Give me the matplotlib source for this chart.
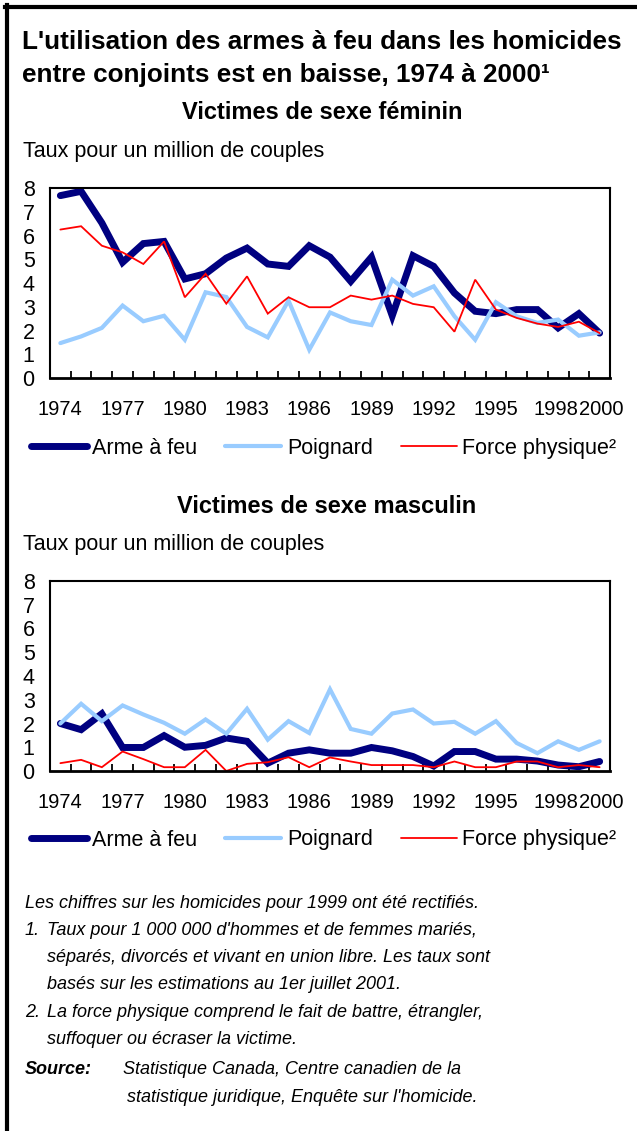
import matplotlib
matplotlib.use('Agg')
import matplotlib.pyplot as plt
import matplotlib.transforms as mtransforms
from matplotlib.lines import Line2D
import numpy as np

# data (taux pour un million de couples)
years = list(range(1974, 2001))
label_years = [1974, 1977, 1980, 1983, 1986, 1989, 1992, 1995, 1998, 2000]

fem_arme = [7.68, 7.86, 6.53, 4.87, 5.66, 5.75, 4.17, 4.39, 5.05, 5.47, 4.80, 4.70, 5.57,
            5.09, 4.07, 5.09, 2.62, 5.15, 4.70, 3.58, 2.81, 2.71, 2.88, 2.88, 2.11, 2.71, 1.89]
fem_poignard = [1.47, 1.75, 2.11, 3.05, 2.39, 2.62, 1.61, 3.61, 3.41, 2.15, 1.71, 3.26, 1.19,
                2.76, 2.39, 2.23, 4.14, 3.47, 3.86, 2.60, 1.61, 3.19, 2.60, 2.32, 2.46, 1.78, 1.92]
fem_force = [6.25, 6.39, 5.57, 5.29, 4.80, 5.75, 3.40, 4.39, 3.13, 4.28, 2.71, 3.40, 2.98,
             2.98, 3.47, 3.30, 3.47, 3.12, 2.98, 1.95, 4.14, 2.88, 2.53, 2.29, 2.15, 2.37, 1.89]

mas_arme = [2.00, 1.74, 2.41, 0.99, 0.99, 1.49, 1.00, 1.08, 1.39, 1.25, 0.33, 0.75, 0.89,
            0.75, 0.75, 0.99, 0.85, 0.61, 0.21, 0.82, 0.82, 0.50, 0.50, 0.42, 0.25, 0.18, 0.40]
mas_poignard = [2.00, 2.83, 2.10, 2.76, 2.38, 2.03, 1.57, 2.17, 1.57, 2.62, 1.32, 2.10, 1.60,
                3.44, 1.77, 1.57, 2.42, 2.59, 2.00, 2.07, 1.57, 2.10, 1.18, 0.75, 1.25, 0.89, 1.25]
mas_force = [0.33, 0.47, 0.16, 0.82, 0.50, 0.16, 0.16, 0.89, 0.00, 0.30, 0.37, 0.58, 0.16,
             0.57, 0.40, 0.25, 0.25, 0.25, 0.16, 0.40, 0.16, 0.16, 0.40, 0.40, 0.16, 0.25, 0.16]

series_names = ['Arme à feu', 'Poignard', 'Force physique²']
series_colors = ['#000080', '#99CCFF', '#FF0000']
series_widths = [5.0, 3.0, 1.3]

W, H = 637, 1131
plt.rcParams['font.family'] = ['Liberation Sans', 'DejaVu Sans']
fig = plt.figure(figsize=(W / 100, H / 100), dpi=100)


def fx(px):
    return px / W


def fy(px):
    return 1 - px / H


def panel(top, values):
    ax = fig.add_axes([fx(50), fy(top + 190), fx(560), 190 / H])
    x = np.arange(len(years))
    for vals, name, col, lw in zip(values, series_names, series_colors, series_widths):
        ax.plot(x, vals, color=col, lw=lw, label=name,
                solid_joinstyle='miter', solid_capstyle='round')
    ax.set_xlim(-0.5, len(years) - 0.5)
    ax.set_ylim(0, 8)
    ax.set_yticks(range(0, 9))
    ax.tick_params(axis='y', length=0, pad=11, labelsize=15.5)
    ax.set_xticks([years.index(y) for y in label_years])
    ax.set_xticklabels([str(y) for y in label_years])
    ax.set_xticks(np.arange(0.5, len(years) - 1, 1.0), minor=True)
    ax.tick_params(axis='x', which='major', length=0, pad=16, labelsize=14.5)
    ax.tick_params(axis='x', which='minor', direction='in', length=5, width=1.3)
    # the last two labels sit almost on each other, nudge them apart a little
    labels = ax.get_xticklabels()
    for lab, dx in ((labels[-2], -2), (labels[-1], 2)):
        lab.set_transform(lab.get_transform() +
                          mtransforms.ScaledTranslation(dx / 100, 0, fig.dpi_scale_trans))
    for s in ax.spines.values():
        s.set_linewidth(1.5)
    ax.spines['bottom'].set_linewidth(2)
    return ax


def legend(ax, ycenter):
    h, l = ax.get_legend_handles_labels()
    fig.legend(h, l, loc='center left', bbox_to_anchor=(fx(31), fy(ycenter)),
               ncol=3, frameon=False, fontsize=15.5, handlelength=2.6,
               handletextpad=0.25, columnspacing=1.3, borderpad=0, borderaxespad=0)


# titles
fig.text(fx(22), fy(49), "L'utilisation des armes à feu dans les homicides",
         fontsize=18.8, fontweight='bold', va='baseline')
fig.text(fx(22), fy(82), "entre conjoints est en baisse, 1974 à 2000¹",
         fontsize=18.8, fontweight='bold', va='baseline')

# victimes de sexe féminin
fig.text(fx(322), fy(119), "Victimes de sexe féminin", fontsize=17,
         fontweight='bold', ha='center', va='baseline')
fig.text(fx(23), fy(157), "Taux pour un million de couples", fontsize=15.5, va='baseline')
ax1 = panel(188, [fem_arme, fem_poignard, fem_force])
legend(ax1, 448)

# victimes de sexe masculin
fig.text(fx(327), fy(513), "Victimes de sexe masculin", fontsize=17,
         fontweight='bold', ha='center', va='baseline')
fig.text(fx(23), fy(550), "Taux pour un million de couples", fontsize=15.5, va='baseline')
ax2 = panel(581, [mas_arme, mas_poignard, mas_force])
legend(ax2, 840)

# notes
note_fs = 13
fig.text(fx(25), fy(908), "Les chiffres sur les homicides pour 1999 ont été rectifiés.",
         fontsize=note_fs, style='italic', va='baseline')
fig.text(fx(25), fy(935), "1.", fontsize=note_fs, style='italic', va='baseline')
fig.text(fx(47), fy(935), "Taux pour 1 000 000 d'hommes et de femmes mariés,",
         fontsize=note_fs, style='italic', va='baseline')
fig.text(fx(47), fy(962), "séparés, divorcés et vivant en union libre. Les taux sont",
         fontsize=note_fs, style='italic', va='baseline')
fig.text(fx(47), fy(989), "basés sur les estimations au 1er juillet 2001.",
         fontsize=note_fs, style='italic', va='baseline')
fig.text(fx(25), fy(1017), "2.", fontsize=note_fs, style='italic', va='baseline')
fig.text(fx(47), fy(1017), "La force physique comprend le fait de battre, étrangler,",
         fontsize=note_fs, style='italic', va='baseline')
fig.text(fx(47), fy(1044), "suffoquer ou écraser la victime.",
         fontsize=note_fs, style='italic', va='baseline')
fig.text(fx(25), fy(1074), "Source:", fontsize=note_fs, style='italic',
         fontweight='bold', va='baseline')
fig.text(fx(123), fy(1074), "Statistique Canada, Centre canadien de la",
         fontsize=note_fs, style='italic', va='baseline')
fig.text(fx(127), fy(1102), "statistique juridique, Enquête sur l'homicide.",
         fontsize=note_fs, style='italic', va='baseline')

# outer frame (left and top edges only)
fig.add_artist(Line2D([fx(7), fx(7)], [fy(5), 0], color='black', lw=3,
                      transform=fig.transFigure))
fig.add_artist(Line2D([fx(5), 1], [fy(7), fy(7)], color='black', lw=3,
                      transform=fig.transFigure))

fig.savefig('out.png', dpi=100)
